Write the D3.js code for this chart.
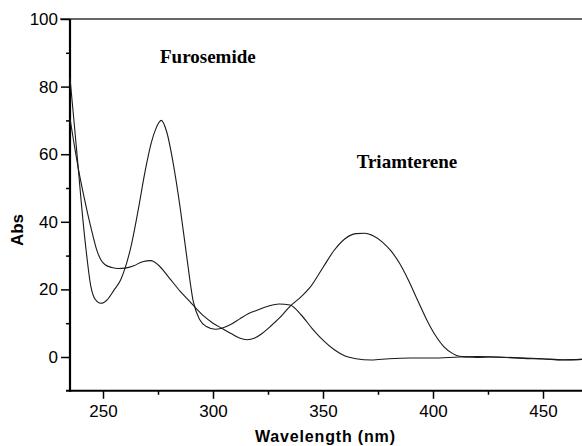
<!DOCTYPE html>
<html>
<head>
<meta charset="utf-8">
<script src="https://cdn.jsdelivr.net/npm/d3@7"></script>
<style>
  html, body { margin: 0; padding: 0; background: #fff; }
  svg { display: block; }
</style>
</head>
<body>
<svg id="chart" width="582" height="446"></svg>
<script>
// ---- data ----
const furoWl  = [235,237,239,240.3,242.3,244.5,246.5,249,252,255,258,260,263,266,269,272,274,276.5,279,282,285,288,291,294,297,301,304,308,312,316,320,325,330,335,340,345,350,355,360,365,372,380,390,400,412,420,430,441,450,459,468];
const furoAbs = [82.5,68.5,54,44.5,31.7,20.8,17,15.9,17,19.8,22.8,26.2,33.5,43.5,54.5,63.5,67.5,70,66.5,57,44.5,30,16.5,11,9,8.2,8.5,9.6,11.2,12.8,13.8,15,15.7,15.4,12.5,8.5,5,2.2,0.3,-0.5,-0.9,-0.5,-0.3,-0.3,0,0.1,0,-0.3,-0.5,-0.8,-0.7];

const triWl  = [235,237,239,241,243,245,247,249,251,254,257,260,264,268,271.8,275,280,285,289.5,292.3,296,300,304,308,312,315.5,319,322,326,330,335,340,344,350,355,360,365,369,373,377,381,385,389,393,397,401,405,409,412,416,420,426,435,441,450,459,468];
const triAbs = [70.5,62.5,55,48.5,42.5,37,32,28.8,27.3,26.5,26.2,26.3,27,28.2,28.5,27.3,23.5,19.5,16.4,14.4,12,10,8.5,7,5.6,5.1,5.6,6.8,9,11.4,15,17.8,20.5,26.5,31.5,35,36.5,36.6,35.8,34,31.3,27.5,22.5,16.8,11.2,6.5,3.0,1.0,0.2,0,-0.1,0,-0.2,-0.4,-0.6,-0.9,-0.7];

const xMajorTicks = [250,300,350,400,450];
const xMinorTicks = [275,325,375,425];
const yMajorTicks = [0,20,40,60,80,100];
const yMinorTicks = [10,30,50,70,90];

const labels = [
  {text: "Furosemide", wl: 275.9, abs: 87.0},
  {text: "Triamterene", wl: 365.3, abs: 56.0}
];

// ---- layout ----
const svg = d3.select("#chart");
const x = d3.scaleLinear().domain([235, 470]).range([70, 587]);
const y = d3.scaleLinear().domain([-10, 100]).range([390.8, 19]);

const axisFont = "Liberation Sans, Arial, sans-serif";

// top frame line
svg.append("line")
  .attr("x1", 60).attr("x2", 582)
  .attr("y1", y(100)).attr("y2", y(100))
  .attr("stroke", "#333").attr("stroke-width", 1.3);

// Y axis
const yAxis = svg.append("g").attr("transform", `translate(${x(235)},0)`)
  .call(d3.axisLeft(y).tickValues(yMajorTicks).tickSize(9).tickPadding(3).tickFormat(d3.format("d")));
yAxis.select(".domain").remove();
yAxis.selectAll(".tick line").attr("stroke", "#000").attr("stroke-width", 1.5);
yAxis.selectAll(".tick text").attr("font-family", axisFont).attr("font-size", 17).attr("fill", "#000");

const yMinor = svg.append("g").attr("transform", `translate(${x(235)},0)`)
  .call(d3.axisLeft(y).tickValues(yMinorTicks).tickSize(4).tickFormat(""));
yMinor.select(".domain").remove();
yMinor.selectAll(".tick line").attr("stroke", "#000").attr("stroke-width", 1.5);

// X axis
const xAxis = svg.append("g").attr("transform", `translate(0,${y(-10)})`)
  .call(d3.axisBottom(x).tickValues(xMajorTicks).tickSize(8).tickPadding(6).tickFormat(d3.format("d")));
xAxis.select(".domain").remove();
xAxis.selectAll(".tick line").attr("stroke", "#000").attr("stroke-width", 1.5);
xAxis.selectAll(".tick text").attr("font-family", axisFont).attr("font-size", 17).attr("fill", "#000");

const xMinor = svg.append("g").attr("transform", `translate(0,${y(-10)})`)
  .call(d3.axisBottom(x).tickValues(xMinorTicks).tickSize(4).tickFormat(""));
xMinor.select(".domain").remove();
xMinor.selectAll(".tick line").attr("stroke", "#000").attr("stroke-width", 1.5);

// axis lines
svg.append("line")
  .attr("x1", x(235)).attr("x2", x(235))
  .attr("y1", y(100)).attr("y2", y(-10) + 1)
  .attr("stroke", "#000").attr("stroke-width", 2.2);
svg.append("line")
  .attr("x1", 66).attr("x2", 582)
  .attr("y1", y(-10)).attr("y2", y(-10))
  .attr("stroke", "#000").attr("stroke-width", 2);

// axis titles
svg.append("text")
  .attr("x", 325).attr("y", 441.5)
  .attr("text-anchor", "middle")
  .attr("font-family", axisFont).attr("font-weight", "bold").attr("font-size", 16)
  .attr("textLength", 140).attr("lengthAdjust", "spacing")
  .text("Wavelength (nm)");
svg.append("text")
  .attr("transform", `translate(23,230) rotate(-90)`)
  .attr("text-anchor", "middle")
  .attr("font-family", axisFont).attr("font-weight", "bold").attr("font-size", 17)
  .text("Abs");

// curves
const line = d3.line()
  .x(d => x(d[0])).y(d => y(d[1]))
  .curve(d3.curveMonotoneX);

const series = [
  d3.zip(furoWl, furoAbs),
  d3.zip(triWl, triAbs)
];
svg.append("g").selectAll("path").data(series).join("path")
  .attr("d", line)
  .attr("fill", "none")
  .attr("stroke", "#1a1a1a")
  .attr("stroke-width", 1.1);

// annotations
svg.append("g").selectAll("text").data(labels).join("text")
  .attr("x", d => x(d.wl)).attr("y", d => y(d.abs))
  .attr("font-family", "Liberation Serif, Times New Roman, serif")
  .attr("font-weight", "bold").attr("font-size", 19)
  .attr("fill", "#000")
  .text(d => d.text);
</script>
</body>
</html>
